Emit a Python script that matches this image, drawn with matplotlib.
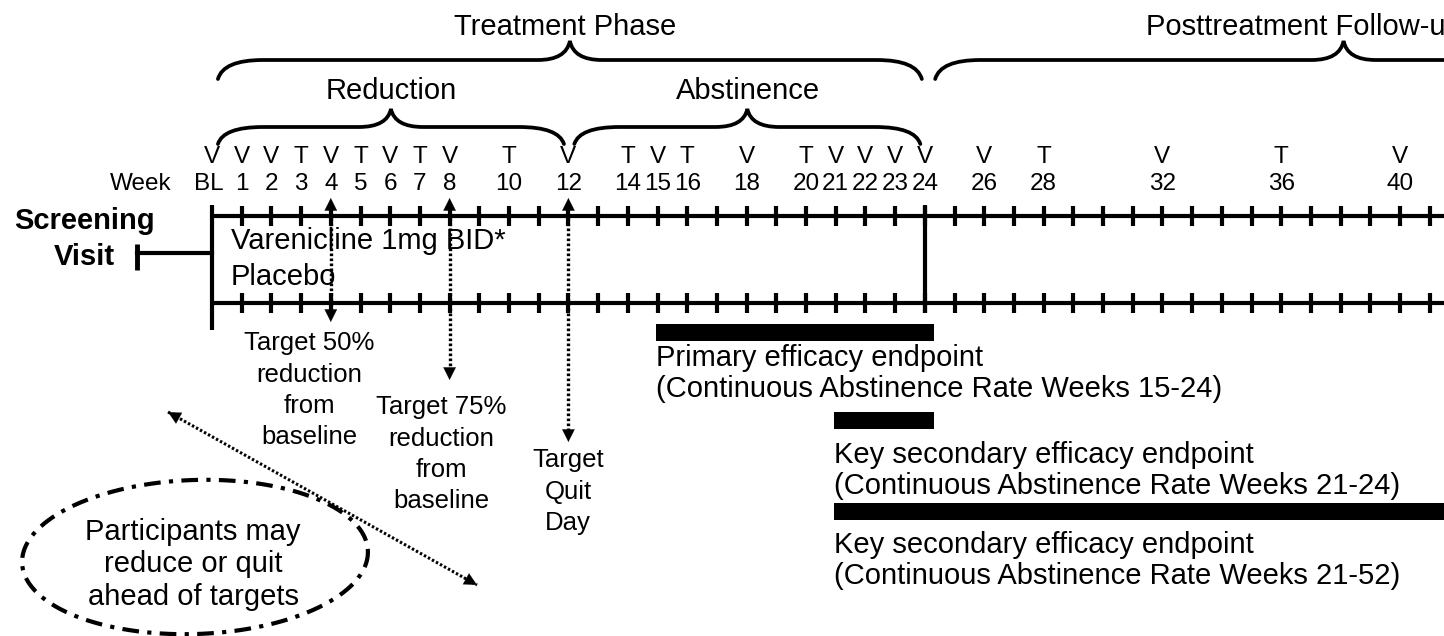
import numpy as np
import matplotlib.pyplot as plt
from matplotlib.path import Path
from matplotlib.patches import PathPatch

plt.rcParams['font.family'] = ['Liberation Sans', 'DejaVu Sans']

# schedule of visits (V) and telephone contacts (T)
visit_weeks = [0, 1, 2, 3, 4, 5, 6, 7, 8, 10, 12, 14, 15, 16, 18, 20, 21, 22, 23, 24, 26, 28, 32, 36, 40]
visit_types = ['V', 'V', 'V', 'T', 'V', 'T', 'V', 'T', 'V', 'T', 'V', 'T', 'V', 'T', 'V', 'T',
               'V', 'V', 'V', 'V', 'V', 'T', 'V', 'T', 'V']
week_labels = ['BL', '1', '2', '3', '4', '5', '6', '7', '8', '10', '12', '14', '15', '16', '18',
               '20', '21', '22', '23', '24', '26', '28', '32', '36', '40']
tick_weeks = list(range(1, 42))
treatment_end = 24

# phases
phase_names = ['Treatment Phase', 'Reduction', 'Abstinence', 'Posttreatment Follow-up']
phase_start = [0, 0, 12, 24]
phase_end = [24, 12, 24, 52]

# reduction targets
target_weeks = [4, 8, 12]
target_labels = ['Target 50%\nreduction\nfrom\nbaseline',
                 'Target 75%\nreduction\nfrom\nbaseline',
                 'Target\nQuit\nDay']

# efficacy endpoints
endpoint_start = [15, 21, 21]
endpoint_end = [24, 24, 52]
endpoint_labels = ['Primary efficacy endpoint\n(Continuous Abstinence Rate Weeks 15-24)',
                   'Key secondary efficacy endpoint\n(Continuous Abstinence Rate Weeks 21-24)',
                   'Key secondary efficacy endpoint\n(Continuous Abstinence Rate Weeks 21-52)']

# layout: x in weeks, y in pixels from the top
PXW = 29.7      # pixels per week
X0 = 212        # pixel position of baseline


def wk(px):
    return (px - X0) / PXW


def brace(ax, a, b, y, m=None, r_end=45, r_tip=32, h_end=19, h_tip=18, lw=2.7):
    if m is None:
        m = (a + b) / 2
    re = r_end / PXW
    rt = r_tip / PXW
    verts = [(a, y + h_end), (a + re * 0.12, y), (a + re, y),
             (m - rt, y), (m - rt * 0.12, y), (m, y - h_tip),
             (m + rt * 0.12, y), (m + rt, y),
             (b - re, y), (b - re * 0.12, y), (b, y + h_end)]
    codes = [Path.MOVETO, Path.CURVE3, Path.CURVE3,
             Path.LINETO, Path.CURVE3, Path.CURVE3,
             Path.CURVE3, Path.CURVE3,
             Path.LINETO, Path.CURVE3, Path.CURVE3]
    ax.add_patch(PathPatch(Path(verts, codes), fill=False, lw=lw, color='k', capstyle='round'))


def arrow_head(ax, x, y, x_from, y_from, scale=15):
    ax.annotate('', xy=(x, y), xytext=(x_from, y_from),
                arrowprops=dict(arrowstyle='-|>,head_length=0.6,head_width=0.3',
                                color='k', lw=0.1, mutation_scale=scale,
                                shrinkA=0, shrinkB=0))


fig = plt.figure(figsize=(14.44, 6.36), dpi=100)
ax = fig.add_axes([0, 0, 1, 1])
ax.set_xlim(wk(0), wk(1444))
ax.set_ylim(636, 0)
ax.axis('off')

big = 21
mid = 18.5
small = 17.5

# phase braces and titles
brace(ax, phase_start[0] + 0.2, phase_end[0] - 0.1, 60, h_end=19, h_tip=19)
ax.text(11.9, 27, phase_names[0], ha='center', va='center', fontsize=big)
for i in (1, 2):
    brace(ax, phase_start[i] + 0.2, phase_end[i] - 0.15, 127, h_end=17, h_tip=18)
    ax.text((phase_start[i] + phase_end[i]) / 2 + 0.05, 91, phase_names[i],
            ha='center', va='center', fontsize=big)
brace(ax, phase_start[3] + 0.35, phase_end[3], 60, m=38.1, h_end=19, h_tip=19)
ax.text(wk(1146), 27, phase_names[3], ha='left', va='center', fontsize=big)

# visit row and week numbers
for w, t, lab in zip(visit_weeks, visit_types, week_labels):
    ax.text(w, 157, t, ha='center', va='center', fontsize=small)
    ax.text(w - (0.1 if lab == 'BL' else 0), 184, lab, ha='center', va='center', fontsize=small)
ax.text(wk(172), 184, 'Week', ha='right', va='center', fontsize=small)

# the two arm lines with weekly ticks
for y in (216, 303):
    ax.plot([0, wk(1444) + 1], [y, y], color='k', lw=3, solid_capstyle='butt')
    ax.vlines(tick_weeks, y - 10, y + 10, color='k', lw=3)
ax.vlines(0, 205, 330, color='k', lw=3)
ax.vlines(treatment_end, 205, 313, color='k', lw=3)

# screening visit
ax.plot([wk(137), 0], [253, 253], color='k', lw=3)
ax.vlines(wk(137), 244, 270, color='k', lw=3.5)
ax.text(wk(84), 221, 'Screening', ha='center', va='center', fontsize=big, fontweight='bold')
ax.text(wk(84), 257, 'Visit', ha='center', va='center', fontsize=big, fontweight='bold')

ax.text(wk(231), 241, 'Varenicline 1mg BID*', ha='left', va='center', fontsize=big)
ax.text(wk(231), 277, 'Placebo', ha='left', va='center', fontsize=big)

# target arrows and labels
arrow_bottom = [322, 380, 442]
label_x = [309, 441, 568]
label_y = [343, 407, 460]
for w, lab, yb, lx, ly in zip(target_weeks, target_labels, arrow_bottom, label_x, label_y):
    ax.plot([w, w], [208, yb - 8], color='k', lw=2.4, ls=(0, (0.8, 0.7)))
    arrow_head(ax, w, 198, w, 214)
    arrow_head(ax, w, yb, w, yb - 14)
    for k, line in enumerate(lab.split('\n')):
        ax.text(wk(lx), ly + 31.5 * k, line, ha='center', va='center', fontsize=mid)

# diagonal double arrow
p0 = (wk(168), 412)
p1 = (wk(477), 585)
ax.plot([p0[0], p1[0]], [p0[1], p1[1]], color='k', lw=2.2, ls=(0, (0.8, 0.7)))
dx, dy = p1[0] - p0[0], p1[1] - p0[1]
arrow_head(ax, p0[0], p0[1], p0[0] + dx * 0.05, p0[1] + dy * 0.05)
arrow_head(ax, p1[0], p1[1], p1[0] - dx * 0.05, p1[1] - dy * 0.05)

# dash-dot ellipse with note
t = np.linspace(0, 2 * np.pi, 400)
th = np.deg2rad(-2)
ex = 195 + 173 * np.cos(t) * np.cos(th) - 77 * np.sin(t) * np.sin(th)
ey = 557 + 173 * np.cos(t) * np.sin(th) + 77 * np.sin(t) * np.cos(th)
ax.plot(wk(ex), ey, color='k', lw=3, ls=(0, (4, 2, 1, 2)))
for k, line in enumerate(['Participants may', 'reduce or quit', 'ahead of targets']):
    ax.text(wk(193), 532 + 32.5 * k, line, ha='center', va='center', fontsize=big)

# endpoint bars
bar_y = [332, 420, 511]
text_y = [358, 455, 545]
for s, e, lab, by, ty in zip(endpoint_start, endpoint_end, endpoint_labels, bar_y, text_y):
    ax.barh(by, e - s + 0.35, left=s - 0.05, height=17, color='k')
    for k, line in enumerate(lab.split('\n')):
        ax.text(s - 0.05, ty + 31 * k, line, ha='left', va='center', fontsize=big)

fig.savefig('out.png', dpi=100, facecolor='white')
